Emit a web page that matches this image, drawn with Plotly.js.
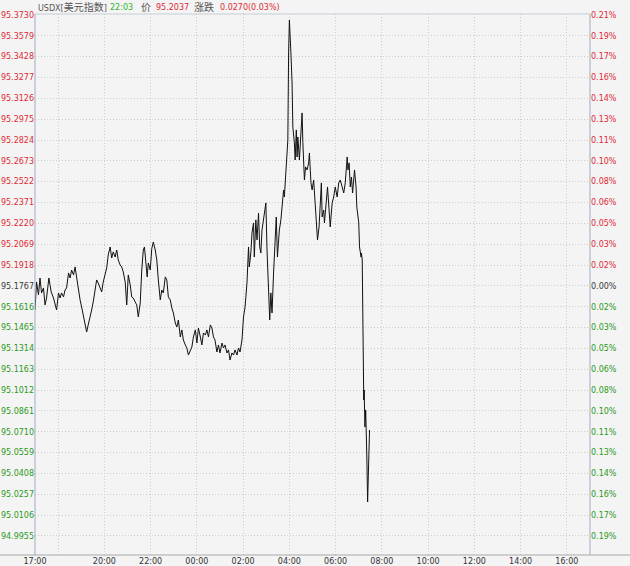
<!DOCTYPE html>
<html><head><meta charset="utf-8">
<script src="https://cdn.plot.ly/plotly-3.0.1.min.js"></script>
<style>html,body{margin:0;padding:0;background:#f4f4f4;}</style>
</head><body><div id="chart" style="width:630px;height:566px;"></div>
<script>
// ---- data ----
const times = ["17:00","17:04","17:09","17:13","17:17","17:22","17:26","17:30","17:36","17:42","17:48","17:56",
"18:01","18:05","18:09","18:14","18:18","18:22","18:27","18:31","18:35","18:40","18:44","18:48","18:52","18:57",
"19:01","19:05","19:10","19:14","19:18","19:23","19:27","19:31","19:36","19:40","19:44","19:49","19:53","19:57",
"20:02","20:06","20:10","20:15","20:19","20:23","20:28","20:32","20:36","20:41","20:45","20:49","20:54","20:58",
"21:02","21:07","21:11","21:15","21:20","21:24","21:28","21:33","21:37","21:41","21:44","21:47","21:51","21:54","21:59",
"22:03","22:07","22:12","22:16","22:20","22:25","22:29","22:33","22:38","22:42","22:46","22:51","22:55","22:59",
"23:04","23:08","23:12","23:17","23:21","23:25","23:30","23:34","23:38","23:43","23:47","23:51","23:56",
"00:00","00:04","00:09","00:13","00:17","00:22","00:26","00:30","00:35","00:39","00:43","00:47","00:52","00:56",
"01:00","01:05","01:09","01:13","01:18","01:22","01:26","01:31","01:35","01:39","01:44","01:48","01:52","01:57",
"02:01","02:05","02:10","02:14","02:16","02:20","02:23","02:27","02:29","02:33","02:36","02:40","02:43","02:46","02:49","02:53","02:56","02:59",
"03:02","03:06","03:09","03:12","03:15","03:19","03:23","03:26","03:29","03:34","03:38","03:41","03:45","03:47","03:51","03:54","03:56","03:58",
"04:00","04:04","04:07","04:09","04:13","04:15","04:18","04:20","04:22","04:26","04:28","04:31","04:33","04:35","04:39","04:42","04:46","04:50","04:52","04:56","04:59",
"05:03","05:07","05:10","05:13","05:17","05:20","05:23","05:25","05:29","05:31","05:35","05:39","05:43","05:46","05:51","05:55","05:59",
"06:04","06:08","06:12","06:17","06:21","06:25","06:30","06:32","06:35","06:38","06:41","06:44","06:47","06:49","06:53","06:55",
"07:00","07:02","07:06","07:07","07:09","07:11","07:13","07:14","07:16","07:18","07:20","07:21","07:23","07:26","07:28"];

const prices = [95.1592,95.1795,95.1701,95.1824,95.1716,95.1752,95.1629,95.1679,95.1824,95.1723,95.1679,95.1592,
95.1716,95.1679,95.1716,95.1687,95.1737,95.1752,95.1861,95.1824,95.1882,95.1846,95.1904,95.1824,
95.1752,95.1665,95.1614,95.1556,95.1498,95.1433,95.1484,95.1534,95.1592,95.1650,95.1752,95.1810,
95.1788,95.1752,95.1723,95.1795,95.1861,95.1897,95.1991,95.2049,95.1969,95.2013,95.1976,95.2027,
95.1955,95.1918,95.1904,95.1868,95.1795,95.1629,95.1846,95.1774,95.1687,95.1679,95.1650,95.1629,
95.1542,95.1643,95.1882,95.2027,95.2049,95.1955,95.1832,95.1933,95.1882,95.2037,95.2085,95.2027,
95.1955,95.1810,95.1665,95.1737,95.1716,95.1832,95.1810,95.1687,95.1665,95.1607,95.1571,95.1498,
95.1469,95.1520,95.1397,95.1448,95.1375,95.1339,95.1317,95.1266,95.1303,95.1324,95.1397,95.1448,
95.1353,95.1462,95.1397,95.1339,95.1426,95.1411,95.1448,95.1397,95.1484,95.1462,95.1397,95.1375,
95.1288,95.1339,95.1281,95.1353,95.1317,95.1339,95.1281,95.1303,95.1230,95.1281,95.1266,95.1303,
95.1266,95.1317,95.1288,95.1375,95.1542,95.1614,95.1788,95.2049,95.1904,95.2005,95.2150,95.2223,
95.1976,95.2245,95.2100,95.2295,95.2049,95.2005,95.2172,95.2245,95.2317,95.2368,95.2027,95.1737,
95.1520,95.1716,95.1571,95.1861,95.2150,95.2266,95.1976,95.2172,95.2245,95.2339,95.2462,95.2411,
95.2585,95.2679,95.2824,95.3455,95.3694,95.3455,95.3237,95.2918,95.2803,95.2679,95.2897,95.2701,
95.2846,95.2679,95.2803,95.2918,95.3020,95.2803,95.2534,95.2629,95.2607,95.2658,95.2730,95.2513,
95.2462,95.2534,95.2368,95.2245,95.2100,95.2194,95.2368,95.2513,95.2266,95.2317,95.2223,95.2368,
95.2484,95.2317,95.2194,95.2368,95.2411,95.2484,95.2411,95.2513,95.2534,95.2484,95.2440,95.2513,
95.2701,95.2607,95.2658,95.2484,95.2556,95.2440,95.2585,95.2607,95.2484,95.2339,95.2223,95.2049,
95.1976,95.2005,95.1955,95.1034,95.0940,95.1013,95.0745,95.0868,95.0701,95.0527,95.0201,95.0701,95.0723];

const prevClose = 95.1767;
const priceTicks = [95.3730,95.3579,95.3428,95.3277,95.3126,95.2975,95.2824,95.2673,95.2522,95.2371,95.2220,95.2069,95.1918,
95.1767,95.1616,95.1465,95.1314,95.1163,95.1012,95.0861,95.0710,95.0559,95.0408,95.0257,95.0106,94.9955];
const pctLabels = ["0.21%","0.19%","0.17%","0.16%","0.14%","0.13%","0.11%","0.10%","0.08%","0.06%","0.05%","0.03%","0.02%",
"0.00%","0.02%","0.03%","0.05%","0.06%","0.08%","0.10%","0.11%","0.13%","0.14%","0.16%","0.17%","0.19%"];
const timeLabels = ["17:00","20:00","22:00","00:00","02:00","04:00","06:00","08:00","10:00","12:00","14:00","16:00"];
const timeGrid = ["18:00","20:00","22:00","00:00","02:00","04:00","06:00","08:00","10:00","12:00","14:00","16:00"];

// header
const headerTime = "22:03";
const headerPrice = "95.2037";
const headerChange = "0.0270(0.03%)";

// ---- helpers ----
const RED = '#e02a35', GREEN = '#2b9a22', GRAY = '#3a3a3a';
function hoursFrom17(s){ const [h,m] = s.split(':').map(Number); return ((h + m/60 - 17) + 24) % 24; }
const xs = times.map(hoursFrom17);
function colorFor(p){ return p > prevClose + 1e-9 ? RED : (p < prevClose - 1e-9 ? GREEN : GRAY); }
const leftText = priceTicks.map(p => `<span style="color:${colorFor(p)}">${p.toFixed(4)}</span>`);
const rightText = pctLabels.map((t,i) => `<span style="color:${colorFor(priceTicks[i])}">${t}</span>`);

const tickSet = Array.from(new Set(timeLabels.concat(timeGrid))).map(s => ({s, v: hoursFrom17(s)})).sort((a,b)=>a.v-b.v);
const xTickVals = tickSet.map(o => o.v);
const xTickText = tickSet.map(o => timeLabels.includes(o.s) ? o.s : '');

const yRange = [94.9817, 95.3737];
const FONT = 'DejaVu Sans, sans-serif';
const GRID = '#cdcdcd';
const GRIDDASH = '1px,2px';

const traces = [
  {x: xs, y: prices, type:'scatter', mode:'lines', line:{color:'#111', width:1}, hoverinfo:'skip', xaxis:'x', yaxis:'y'},
  {x: xs, y: prices, type:'scatter', mode:'lines', line:{color:'rgba(0,0,0,0)', width:0}, hoverinfo:'skip', xaxis:'x', yaxis:'y2'}
];

const W = 555, H = 541;
function px(xPix){ return (xPix - 35) / W; }
const annY = 1 + (14 - 7.5) / H;
const ann = (text, xPix, color) => ({
  xref:'paper', yref:'paper', x: px(xPix), y: annY, xanchor:'left', yanchor:'middle', showarrow:false,
  text, font:{family: FONT + ', Noto Sans CJK SC', size:8, color}
});

const layout = {
  width:630, height:566,
  margin:{l:35, r:40, t:14, b:11, pad:0},
  paper_bgcolor:'#f4f4f4', plot_bgcolor:'#f4f4f4',
  showlegend:false,
  font:{family:FONT, size:8, color:'#333'},
  xaxis:{range:[0,24], tickmode:'array', tickvals:xTickVals, ticktext:xTickText,
    showgrid:true, gridcolor:GRID, griddash:GRIDDASH, gridwidth:1, zeroline:false, showline:false,
    ticks:'', automargin:false, fixedrange:true, tickfont:{family:FONT, size:8, color:'#333'}},
  yaxis:{range:yRange, tickmode:'array', tickvals:priceTicks, ticktext:leftText,
    showgrid:true, gridcolor:GRID, griddash:GRIDDASH, gridwidth:1, zeroline:false, showline:false,
    ticks:'', automargin:false, fixedrange:true, tickfont:{family:FONT, size:8}},
  yaxis2:{range:yRange, overlaying:'y', side:'right', anchor:'x', tickmode:'array', tickvals:priceTicks, ticktext:rightText,
    showgrid:false, zeroline:false, showline:false, ticks:'', automargin:false, fixedrange:true, tickfont:{family:FONT, size:8}},
  shapes:[
    {type:'line', xref:'paper', yref:'paper', x0:0, x1:1, y0:1, y1:1, line:{color:'#c6ced8', width:1}},
    {type:'line', xref:'paper', yref:'paper', x0:-35/W, x1:1+40/W, y0:0, y1:0, line:{color:'#a8a8a8', width:1}},
    {type:'line', xref:'paper', yref:'paper', x0:0, x1:0, y0:0, y1:1, line:{color:'#9fadc0', width:1}},
    {type:'line', xref:'paper', yref:'paper', x0:1, x1:1, y0:0, y1:1, line:{color:'#9fadc0', width:1}}
  ],
  annotations:[
    ann('USDX[<span style="font-size:10px">美元指数</span>]', 36, '#555'),
    ann(headerTime, 108, '#2db52d'),
    ann('<span style="font-size:10px">价</span>', 139, '#555'),
    ann(headerPrice, 154, RED),
    ann('<span style="font-size:10px">涨跌</span>', 192, '#555'),
    ann(headerChange, 218, RED)
  ]
};

Plotly.newPlot('chart', traces, layout, {staticPlot:true, displayModeBar:false});
</script></body></html>
